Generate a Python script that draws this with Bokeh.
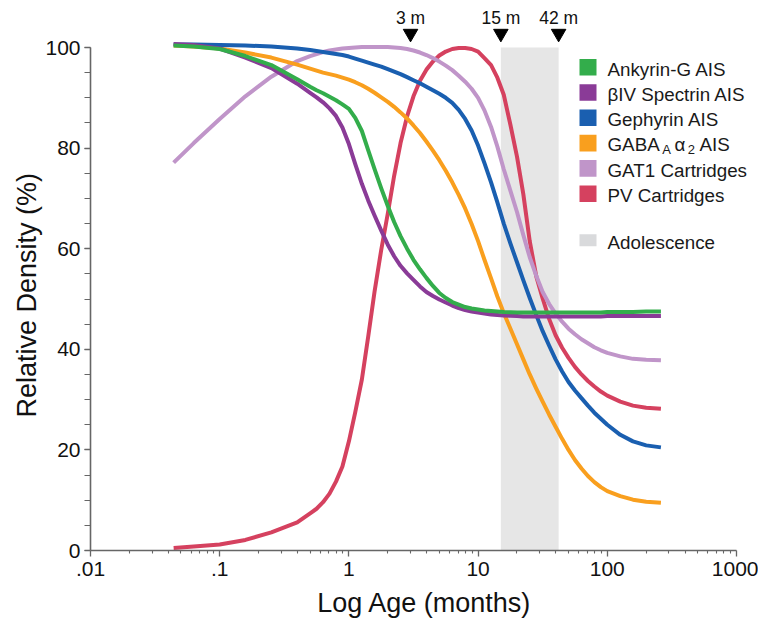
import math
from bokeh.plotting import figure
from bokeh.models import Range1d, FixedTicker, Label, BoxAnnotation, Title
from bokeh.embed import file_html
from bokeh.resources import INLINE
from bokeh.core.properties import value

# ---------------- data ----------------
ages = [0.044, 0.063, 0.1, 0.158, 0.251, 0.398, 0.501, 0.562, 0.631, 0.708,
        0.794, 0.891, 1.0, 1.12, 1.26, 1.41, 1.58, 1.78, 2.0, 2.24,
        2.51, 2.82, 3.16, 3.55, 3.98, 4.47, 5.01, 5.62, 6.31, 7.08,
        7.94, 8.91, 10.0, 11.2, 12.6, 14.1, 15.8, 17.8, 20.0, 22.4,
        25.1, 28.2, 31.6, 35.5, 39.8, 44.7, 50.1, 56.2, 63.1, 70.8,
        79.4, 89.1, 100.0, 126.0, 158.0, 200.0, 260.0]

ankyrin_g = [100.4, 100.2, 99.7, 98.3, 96.5, 93.7, 92.2, 91.5, 90.9, 90.2,
             89.5, 88.7, 87.8, 86.0, 83.4, 79.6, 75.8, 72.0, 68.5, 65.3,
             62.5, 60.0, 57.8, 55.9, 54.2, 52.6, 51.2, 50.2, 49.4, 48.9,
             48.4, 48.1, 47.9, 47.7, 47.6, 47.5, 47.4, 47.35, 47.3, 47.3,
             47.3, 47.3, 47.3, 47.3, 47.3, 47.3, 47.3, 47.3, 47.3, 47.3,
             47.3, 47.3, 47.4, 47.4, 47.4, 47.5, 47.5]
biv_spectrin = [100.7, 100.5, 99.8, 98.0, 95.9, 92.8, 91.0, 90.1, 89.1, 87.9,
                86.4, 84.1, 80.8, 76.8, 72.9, 69.6, 66.6, 63.6, 60.8, 58.5,
                56.6, 55.1, 53.8, 52.5, 51.4, 50.6, 49.9, 49.3, 48.7, 48.2,
                47.8, 47.5, 47.3, 47.1, 46.9, 46.8, 46.7, 46.65, 46.6, 46.5,
                46.5, 46.5, 46.5, 46.5, 46.5, 46.5, 46.5, 46.5, 46.5, 46.5,
                46.5, 46.5, 46.6, 46.6, 46.6, 46.6, 46.6]
gephyrin = [100.6, 100.6, 100.5, 100.4, 100.2, 99.8, 99.5, 99.3, 99.1, 98.9,
            98.7, 98.5, 98.2, 97.8, 97.4, 97.0, 96.6, 96.2, 95.7, 95.2,
            94.7, 94.1, 93.5, 92.9, 92.2, 91.5, 90.8, 90.0, 89.0, 87.6,
            85.8, 83.5, 80.5, 77.0, 73.2, 69.2, 65.0, 61.0, 57.3, 53.7,
            50.2, 46.8, 43.6, 40.7, 38.0, 35.6, 33.5, 31.8, 30.3, 28.8,
            27.4, 26.2, 25.0, 23.0, 21.7, 20.9, 20.5]
gaba_a2 = [100.4, 100.2, 99.8, 99.0, 98.0, 96.6, 95.8, 95.4, 95.0, 94.7,
           94.4, 94.0, 93.6, 93.1, 92.5, 91.8, 91.0, 90.1, 89.2, 88.2,
           87.1, 85.9, 84.5, 83.0, 81.3, 79.5, 77.6, 75.5, 73.2, 70.7,
           68.0, 64.9, 61.5, 57.8, 54.1, 50.5, 47.2, 44.1, 41.0, 38.0,
           35.0, 32.2, 29.6, 27.0, 24.6, 22.2, 20.0, 18.0, 16.3, 14.8,
           13.6, 12.6, 11.8, 10.8, 10.1, 9.7, 9.5]
gat1 = [77.1, 81.0, 85.8, 90.3, 94.2, 97.3, 98.3, 98.7, 99.1, 99.4,
        99.6, 99.8, 99.9, 100.0, 100.1, 100.1, 100.1, 100.1, 100.1, 100.0,
        99.9, 99.7, 99.4, 99.0, 98.5, 97.9, 97.2, 96.4, 95.5, 94.4,
        93.2, 91.8, 90.0, 87.5, 84.2, 80.3, 75.8, 71.5, 67.3, 62.7,
        58.3, 54.6, 51.4, 49.0, 47.1, 45.5, 44.1, 43.0, 42.0, 41.2,
        40.4, 39.8, 39.3, 38.6, 38.1, 37.9, 37.8]
pv = [0.5, 0.8, 1.2, 2.1, 3.6, 5.6, 7.4, 8.3, 9.6, 11.3,
      13.7, 16.7, 21.7, 27.5, 34.0, 42.5, 51.5, 59.8, 67.0, 74.5,
      81.0, 86.3, 90.3, 93.4, 95.6, 97.2, 98.4, 99.2, 99.7, 99.9,
      99.9, 99.7, 99.2, 97.9, 96.5, 94.0, 90.6, 84.6, 78.3, 70.8,
      61.5, 54.5, 50.1, 46.0, 42.8, 40.3, 38.3, 36.5, 35.0, 33.7,
      32.6, 31.6, 30.8, 29.6, 28.8, 28.4, 28.2]

adolescence_start = [15]
adolescence_end = [42]
adolescence_top = [100]
adolescence_bottom = [0]

marker_ages = [3, 15, 42]
marker_labels = ["3 m", "15 m", "42 m"]

x_ticks = [0.01, 0.1, 1, 10, 100, 1000]
x_tick_labels = [".01", ".1", "1", "10", "100", "1000"]
x_minor_mult = [2, 3, 4, 5, 6, 7, 8, 9]
y_ticks = [0, 20, 40, 60, 80, 100]
y_minor_step = 5

series_names = ["Ankyrin-G AIS", "\u03b2IV Spectrin AIS", "Gephyrin AIS",
                "GABA_A \u03b1_2 AIS", "GAT1 Cartridges", "PV Cartridges"]
series_values = [ankyrin_g, biv_spectrin, gephyrin, gaba_a2, gat1, pv]
series_colors = ["#33ad4b", "#8a3b97", "#1a5fb0", "#f99f1e", "#c095c9", "#d5415f"]

# ---------------- layout ----------------
FONT = "Liberation Sans"
OFF = 1                      # page offset of the canvas (observed)
W, H = 758, 622
ML, MR, MT = 90, 0, 7
FH = 543                     # frame height in px
MB = H - MT - FH
FW = W - ML - MR
DEC = 129.2                  # px per decade
X0 = 0.01
X1 = 10 ** (math.log10(X0) + FW / DEC)
Y1 = 100.0 * FH / 503.0      # 100 % sits 503 px above the x axis

def xd(ix):
    """page pixel x -> data x (log axis)"""
    fx = ix - OFF - ML
    return 10 ** (math.log10(X0) + fx / DEC)

def yd(iy):
    """page pixel y -> data y"""
    fy = (OFF + MT + FH) - iy
    return fy / FH * Y1

p = figure(width=W, height=H, x_axis_type="log",
           x_range=Range1d(X0, X1), y_range=Range1d(0, Y1),
           output_backend="svg", toolbar_location=None,
           min_border_left=ML, min_border_right=MR,
           min_border_top=MT, min_border_bottom=MB)
p.outline_line_color = None
p.grid.visible = False
p.background_fill_color = "white"
p.border_fill_color = "white"

# axes
xa = p.xaxis[0]
ya = p.yaxis[0]
x_minor = [m * t for t in x_ticks[:-1] for m in x_minor_mult]
xa.ticker = FixedTicker(ticks=x_ticks, minor_ticks=x_minor)
xa.major_label_overrides = dict(zip(x_ticks, x_tick_labels))
xa.bounds = (x_ticks[0], x_ticks[-1])
ya.ticker = FixedTicker(ticks=y_ticks,
                        minor_ticks=list(range(y_ticks[0], y_ticks[-1] + 1, y_minor_step)))
ya.bounds = (y_ticks[0], y_ticks[-1])
for ax in (xa, ya):
    ax.axis_line_color = "#666666"
    ax.axis_line_width = 1.6
    ax.major_tick_line_color = "#666666"
    ax.minor_tick_line_color = "#666666"
    ax.major_tick_line_width = 1.3
    ax.minor_tick_line_width = 1.1
    ax.major_tick_in = 0
    ax.minor_tick_in = 0
    ax.major_tick_out = 6
    ax.major_label_text_font = FONT
    ax.major_label_text_font_size = "21px"
    ax.major_label_text_color = "#111111"
xa.minor_tick_out = 3
ya.minor_tick_out = 6
xa.major_label_standoff = 5
ya.major_label_standoff = 4

xa.axis_label = "Log Age (months)"
xa.axis_label_text_font = FONT
xa.axis_label_text_font_size = "27px"
xa.axis_label_text_font_style = "normal"
xa.axis_label_text_color = "#111111"
xa.axis_label_standoff = 9

# y title as a side title so that it is centred on the 0-100 span
p.add_layout(Title(text="Relative Density (%)", align="left", offset=133,
                   vertical_align="bottom", standoff=2,
                   text_font=FONT, text_font_size="27px",
                   text_font_style="normal", text_color="#111111"), "left")

# adolescence band
p.quad(left=adolescence_start, right=adolescence_end,
       bottom=adolescence_bottom, top=adolescence_top,
       fill_color="#e6e6e6", line_color=None)

# curves (drawn so that the legend's first entry ends on top)
for vals, col in reversed(list(zip(series_values, series_colors))):
    p.line(ages, vals, line_width=4, line_color=col, line_join="round")

# age markers
p.scatter(x=marker_ages, y=[yd(34.0)] * len(marker_ages), marker="inverted_triangle",
          size=14.5, fill_color="black", line_color="black")
p.text(x=marker_ages, y=[yd(18.5)] * len(marker_ages), text=marker_labels,
       text_align="center", text_baseline="alphabetic",
       text_font=value(FONT), text_font_size="17.5px", text_color="#111111")

# legend (drawn by hand because of the sub-scripts)
LEG_X0, LEG_X1, LEG_TX = 580, 597, 608
row0, row_gap = 67.7, 25.3
TXT = dict(text_font=FONT, text_align="left", text_baseline="alphabetic",
           text_color="#1a1a1a")
for i, (name, col) in enumerate(zip(series_names, series_colors)):
    c = row0 + i * row_gap
    p.add_layout(BoxAnnotation(left=xd(LEG_X0), right=xd(LEG_X1),
                               bottom=yd(c + 8.3), top=yd(c - 8.3),
                               fill_color=col, fill_alpha=1.0, line_color=None,
                               level="overlay"))
    base = yd(c + 1.8)
    sub = yd(c + 6.8)
    if "_" in name:
        pieces = [("GABA", LEG_TX, base, "18.8px"), ("A", 662.7, sub, "13px"),
                  ("\u03b1", 675.0, base, "18.8px"), ("2", 688.3, sub, "13px"),
                  ("AIS", 700.0, base, "18.8px")]
        for t, px, yy, fs in pieces:
            p.add_layout(Label(x=xd(px), y=yy, text=t, text_font_size=fs, **TXT))
    else:
        p.add_layout(Label(x=xd(LEG_TX), y=base, text=name,
                           text_font_size="18.8px", **TXT))

c = 240.8
p.add_layout(BoxAnnotation(left=xd(LEG_X0), right=xd(LEG_X1),
                           bottom=yd(c + 6), top=yd(c - 6),
                           fill_color="#d9dadc", fill_alpha=1.0, line_color=None,
                           level="overlay"))
p.add_layout(Label(x=xd(LEG_TX), y=yd(c + 2.0), text="Adolescence",
                   text_font_size="18.8px", **TXT))

open("out.html", "w").write(file_html(p, INLINE))
